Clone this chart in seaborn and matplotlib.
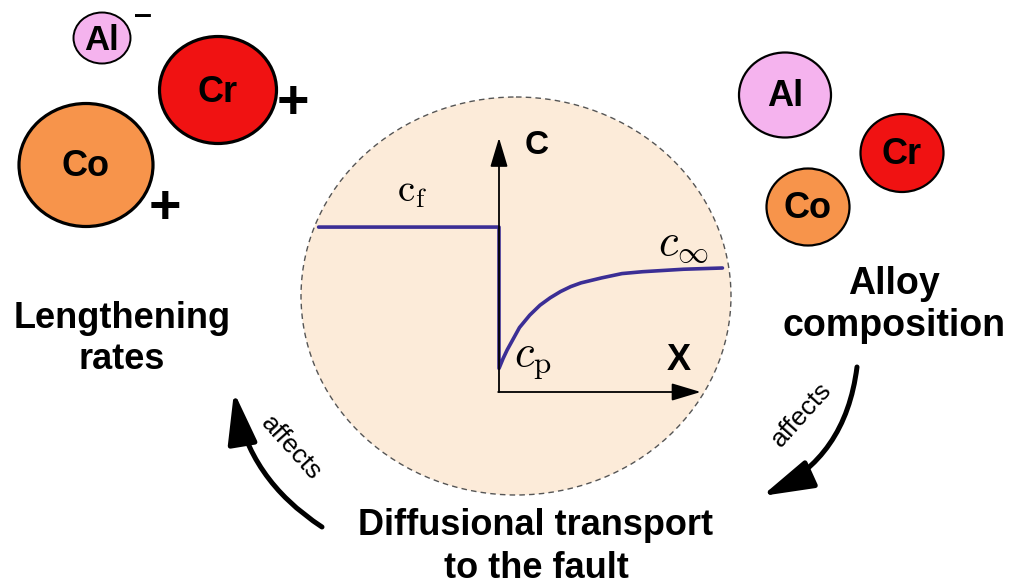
import matplotlib
matplotlib.use("Agg")
import matplotlib.pyplot as plt
from matplotlib.patches import Ellipse, FancyArrowPatch, ArrowStyle
import numpy as np
import pandas as pd
import seaborn as sns

# ---------------- data ----------------
fault_distance = [-4.4, 0.0, 0.0, 0.1, 0.2, 0.35, 0.5, 0.75, 1.0, 1.25, 1.5, 1.75,
                  2.0, 2.5, 3.0, 3.5, 4.0, 4.5, 5.45]
concentration = [1.33, 1.33, 0.19, 0.27, 0.34, 0.43, 0.52, 0.62, 0.70, 0.76, 0.81, 0.85,
                 0.88, 0.92, 0.955, 0.97, 0.98, 0.99, 1.0]
elements = ["Al", "Cr", "Co"]
element_colors = ["#F5B3EE", "#F01212", "#F7944B"]
lengthening_effect = ["\u2013", "+", "+"]
label_fault = r"$\mathrm{c}_\mathrm{f}$"
label_far = r"$c_\infty$"
label_p = r"$c_\mathrm{p}$"
label_left = "Lengthening\nrates"
label_right = "Alloy\ncomposition"
label_bottom = "Diffusional transport\nto the fault"
label_arrow = "affects"

# ---------------- style ----------------
sns.set_theme(style="white")
plt.rcParams["font.family"] = ["Liberation Sans", "DejaVu Sans"]
plt.rcParams["mathtext.fontset"] = "cm"
plt.rcParams["text.color"] = "black"

W, H = 1018, 587
fig = plt.figure(figsize=(W / 100, H / 100), dpi=100)
ax = fig.add_axes([0, 0, 1, 1])
ax.set_xlim(0, W)
ax.set_ylim(H, 0)
ax.axis("off")

# big dashed circle
ax.add_patch(Ellipse((516, 296), 430, 398, facecolor="#FCEBD9",
                     edgecolor="#555555", lw=1.0, ls=(0, (4, 3)), zorder=1))

# ---- inset with concentration profile ----
px_per_x, px_per_c = 41.0, 124.0
x0_px, c0_px = 499.0, 392.0
xlim = (-5.0, 6.0)
ylim = (-0.1, 2.2)
left = (x0_px + xlim[0] * px_per_x) / W
width = (xlim[1] - xlim[0]) * px_per_x / W
bottom = 1 - (c0_px - ylim[0] * px_per_c) / H
height = (ylim[1] - ylim[0]) * px_per_c / H
axi = fig.add_axes([left, bottom, width, height])
axi.set_xlim(*xlim)
axi.set_ylim(*ylim)
axi.axis("off")
axi.patch.set_alpha(0)

prof = pd.DataFrame({"x": fault_distance, "c": concentration})
sns.lineplot(data=prof, x="x", y="c", sort=False, estimator=None, ax=axi,
             color="#3B2E95", lw=2.6, zorder=3)
axstyle = "-|>,head_length=1.0,head_width=0.3"
axi.annotate("", xy=(0, 2.05), xytext=(0, 0),
             arrowprops=dict(arrowstyle=axstyle, lw=1.3, color="black",
                             shrinkA=0, shrinkB=0, mutation_scale=18))
axi.annotate("", xy=(4.92, 0), xytext=(-0.02, 0),
             arrowprops=dict(arrowstyle=axstyle, lw=1.3, color="black",
                             shrinkA=0, shrinkB=0, mutation_scale=18))

# labels inside circle
ax.text(537, 146, "C", fontsize=24, fontweight="bold", ha="center", va="center")
ax.text(679, 360, "X", fontsize=26, fontweight="bold", ha="center", va="center")
ax.text(412, 192, label_fault, fontsize=28, ha="center", va="center")
ax.text(683, 245, label_far, fontsize=32, ha="center", va="center")
ax.text(533, 362, label_p, fontsize=32, ha="center", va="center")

# ---- left group of atoms ----
left_atoms = [((102, 38), 57, 51, 1.4), ((218, 90), 117, 107, 2.3), ((86, 165), 134, 123, 2.3)]
sign_pos = [(143, 24), (293, 104), (165, 209)]
for (c, w, h, lw), name, col, s, sp in zip(left_atoms, elements, element_colors,
                                          lengthening_effect, sign_pos):
    ax.add_patch(Ellipse(c, w, h, facecolor=col, edgecolor="black", lw=lw, zorder=2))
    ax.text(c[0], c[1] + 2, name, fontsize=26 if w > 60 else 25, fontweight="bold",
            ha="center", va="center", zorder=3)
    if s == "+":
        ax.text(sp[0], sp[1], s, fontsize=40, fontweight="bold",
                ha="center", va="center", zorder=3)
    else:
        ax.text(sp[0], sp[1], s, fontsize=23, fontweight="bold",
                ha="center", va="baseline", zorder=3)

# ---- right group of atoms ----
right_atoms = [((785, 95), 92, 85), ((902, 153), 83, 78), ((808, 207), 83, 77)]
for (c, w, h), name, col in zip(right_atoms, elements, element_colors):
    ax.add_patch(Ellipse(c, w, h, facecolor=col, edgecolor="black", lw=1.6, zorder=2))
    ax.text(c[0], c[1] + 2, name, fontsize=26, fontweight="bold", ha="center",
            va="center", zorder=3)

# ---- big labels ----
ax.text(122, 339, label_left, fontsize=26, fontweight="bold", ha="center",
        va="center", linespacing=1.25)
ax.text(894, 305, label_right, fontsize=27, fontweight="bold", ha="center",
        va="center", linespacing=1.22)
ax.text(536, 547, label_bottom, fontsize=26, fontweight="bold", ha="center",
        va="center", linespacing=1.3)

# ---- curved arrows ----
style = ArrowStyle("-|>", head_length=1.05, head_width=0.3)
ax.add_patch(FancyArrowPatch((322, 527), (234, 392), connectionstyle="arc3,rad=-0.22",
                             arrowstyle=style, mutation_scale=30, lw=3.6,
                             color="black", shrinkA=0, shrinkB=0, zorder=4))
ax.add_patch(FancyArrowPatch((857, 367), (762, 496), connectionstyle="arc3,rad=-0.28",
                             arrowstyle=style, mutation_scale=30, lw=3.6,
                             color="black", shrinkA=0, shrinkB=0, zorder=4))
ax.text(291, 448, label_arrow, fontsize=19, rotation=-48, ha="center", va="center",
        rotation_mode="anchor")
ax.text(802, 415, label_arrow, fontsize=19, rotation=48, ha="center", va="center",
        rotation_mode="anchor")

fig.savefig("out.png", dpi=100)
